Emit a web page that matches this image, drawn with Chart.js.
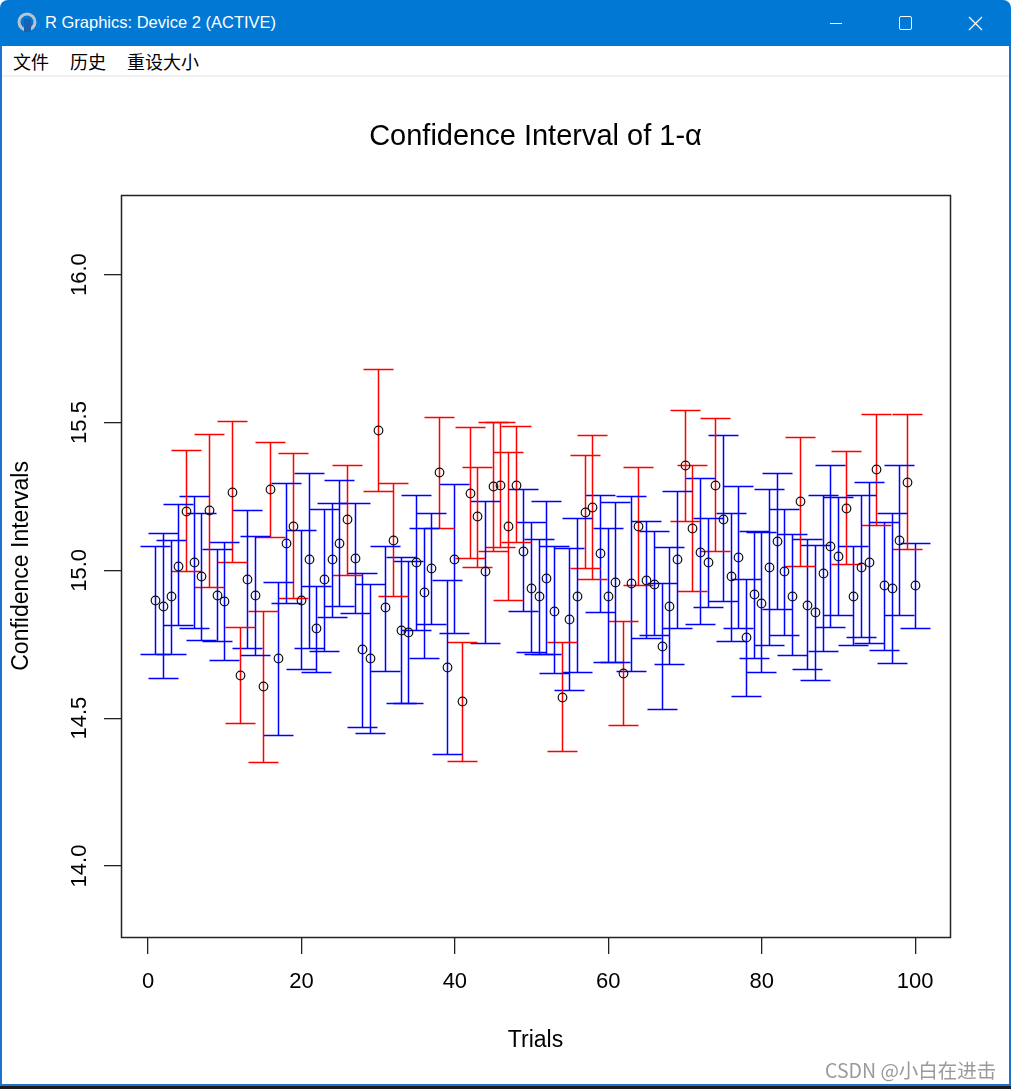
<!DOCTYPE html>
<html>
<head>
<meta charset="utf-8">
<title>Confidence Interval of 1-α</title>
<script src="https://cdn.jsdelivr.net/npm/chart.js@4.4.0/dist/chart.umd.min.js"></script>
<style>
  html, body { margin: 0; padding: 0; background: #fff; }
  #win { position: relative; width: 1011px; height: 1089px; overflow: hidden; background: #fff; }
  #titlebar { position: absolute; left: 0; top: 0; width: 1011px; height: 46px; background: #0078d4; border-radius: 8px 8px 0 0; }
  #titlebar .cap { position: absolute; left: 45px; top: 13px; color: #fff; font: 16.5px "Liberation Sans", Arial, sans-serif; white-space: nowrap; }
  #titlebar svg { position: absolute; left: 0; top: 0; }
  #menu { position: absolute; left: 0; top: 46px; width: 1011px; height: 29px; background: #fff; border-bottom: 2px solid #f0f0f0; }
  #menu span { position: absolute; top: 2px; font: 18px "Noto Sans CJK SC", sans-serif; color: #000; white-space: nowrap; }
  #chartBox { position: absolute; left: 0; top: 77px; width: 1011px; height: 1012px; }
  .edge { position: absolute; background: #1c74d0; }
  #mark { position: absolute; left: 825px; top: 1055px; font: 19.5px "Noto Sans CJK SC", sans-serif; color: #9a9a9a; text-shadow: 0 0 2px #fff; white-space: nowrap; }
</style>
</head>
<body>
<div id="win">
  <div id="titlebar">
    <svg width="1011" height="46">
      <circle cx="27" cy="22" r="8" fill="none" stroke="#b8c4cf" stroke-width="3"/>
      <rect x="24" y="19" width="7" height="13" fill="#1b5fb0"/>
      <line x1="830" y1="23.5" x2="842" y2="23.5" stroke="#fff" stroke-width="1"/>
      <rect x="899.5" y="16.5" width="12" height="13" rx="1.5" fill="none" stroke="#fff" stroke-width="1"/>
      <line x1="969" y1="17" x2="982" y2="30" stroke="#fff" stroke-width="1.2"/>
      <line x1="982" y1="17" x2="969" y2="30" stroke="#fff" stroke-width="1.2"/>
    </svg>
    <div class="cap">R Graphics: Device 2 (ACTIVE)</div>
  </div>
  <div id="menu">
    <span style="left:13px">文件</span>
    <span style="left:70px">历史</span>
    <span style="left:127px">重设大小</span>
  </div>
  <div id="chartBox"><canvas id="ciChart" width="1011" height="1012"></canvas></div>
  <div class="edge" style="left:0;top:46px;width:2px;height:1040px"></div>
  <div class="edge" style="right:0;top:46px;width:2px;height:1040px"></div>
  <div class="edge" style="left:0;top:1084px;width:1011px;height:2px"></div>
  <div style="position:absolute;left:0;top:1086px;width:1011px;height:3px;background:#1c1c1c"></div>
  <div id="mark">CSDN @小白在进击</div>
</div>
<script>
// trial numbers 1..100
const trials = Array.from({ length: 100 }, (_, i) => i + 1);

// sample means (circles)
const means = [
  14.899, 14.878, 14.910, 15.014, 15.198, 15.026, 14.978, 15.202, 14.915, 14.894,
  15.264, 14.646, 14.969, 14.914, 14.606, 15.272, 14.701, 15.091, 15.149, 14.899,
  15.036, 14.803, 14.969, 15.035, 15.092, 15.172, 15.040, 14.733, 14.701, 15.472,
  14.874, 15.101, 14.798, 14.789, 15.026, 14.924, 15.005, 15.330, 14.671, 15.037,
  14.558, 15.259, 15.183, 14.995, 15.283, 15.288, 15.147, 15.288, 15.065, 14.939,
  14.910, 14.974, 14.862, 14.569, 14.833, 14.913, 15.197, 15.214, 15.056, 14.913,
  14.960, 14.650, 14.955, 15.147, 14.966, 14.952, 14.742, 14.879, 15.035, 15.354,
  15.142, 15.062, 15.026, 15.288, 15.172, 14.978, 15.045, 14.772, 14.918, 14.888,
  15.009, 15.096, 14.995, 14.913, 15.234, 14.882, 14.857, 14.990, 15.080, 15.046,
  15.208, 14.913, 15.009, 15.026, 15.340, 14.949, 14.939, 15.101, 15.298, 14.949
];

// lower interval ends
const lower = [
  14.716, 14.635, 14.716, 14.812, 14.995, 14.803, 14.764, 14.943, 14.760, 14.696,
  15.026, 14.483, 14.736, 14.712, 14.350, 15.112, 14.442, 14.888, 14.904, 14.665,
  14.736, 14.656, 14.726, 14.842, 14.879, 14.984, 14.854, 14.468, 14.448, 15.268,
  14.659, 14.913, 14.550, 14.550, 14.797, 14.701, 14.817, 15.142, 14.376, 14.787,
  14.355, 15.039, 15.011, 14.752, 15.065, 15.076, 14.899, 15.095, 14.862, 14.721,
  14.716, 14.716, 14.652, 14.386, 14.594, 14.654, 15.005, 14.969, 14.857, 14.688,
  14.688, 14.474, 14.659, 14.949, 14.769, 14.778, 14.530, 14.682, 14.803, 15.166,
  14.930, 14.817, 14.874, 15.065, 14.893, 14.761, 14.803, 14.573, 14.701, 14.654,
  14.746, 14.866, 14.778, 14.712, 15.014, 14.665, 14.629, 14.726, 14.808, 14.848,
  15.020, 14.747, 14.772, 14.753, 15.153, 14.730, 14.685, 14.848, 15.071, 14.803
];

// upper interval ends
const upper = [
  15.080, 15.126, 15.101, 15.223, 15.406, 15.249, 15.192, 15.460, 15.071, 15.095,
  15.502, 14.808, 15.202, 15.116, 14.862, 15.431, 14.960, 15.294, 15.394, 15.136,
  15.329, 14.947, 15.206, 15.226, 15.304, 15.353, 15.226, 14.990, 14.952, 15.678,
  15.080, 15.294, 15.045, 15.031, 15.253, 15.142, 15.192, 15.517, 14.966, 15.289,
  14.757, 15.482, 15.349, 15.232, 15.501, 15.499, 15.400, 15.485, 15.273, 15.161,
  15.104, 15.232, 15.079, 14.755, 15.075, 15.175, 15.389, 15.456, 15.253, 15.142,
  15.228, 14.826, 15.249, 15.349, 15.164, 15.130, 14.955, 15.076, 15.268, 15.541,
  15.355, 15.309, 15.175, 15.512, 15.456, 15.192, 15.282, 14.969, 15.130, 15.127,
  15.273, 15.329, 15.206, 15.121, 15.450, 15.104, 15.085, 15.253, 15.354, 15.245,
  15.401, 15.080, 15.253, 15.298, 15.527, 15.161, 15.192, 15.354, 15.527, 15.091
];

// trials whose interval is drawn in red
const redTrials = [5, 8, 11, 12, 15, 16, 19, 26, 30, 32, 38, 41, 42, 43, 45, 46, 47, 48,
  54, 57, 58, 62, 64, 70, 71, 74, 85, 91, 95, 99];

const xTicks = [0, 20, 40, 60, 80, 100];
const yTicks = [14.0, 14.5, 15.0, 15.5, 16.0];

const FONT = 'Liberation Sans';

// one small dataset per interval: stem from lower to upper, caps drawn as 'line' points
const intervalSets = trials.map((t, i) => {
  const col = redTrials.includes(t) ? '#ff0000' : '#0000ff';
  return {
    data: [{ x: t, y: lower[i] }, { x: t, y: upper[i] }],
    showLine: true,
    borderColor: col,
    backgroundColor: col,
    borderWidth: 1.5,
    pointStyle: 'line',
    pointRadius: 15,
    pointHoverRadius: 15,
    pointBorderColor: col,
    pointBorderWidth: 1.5,
    order: 1
  };
});

// snap the positions the scales gave onto pixel centres, so lines stay as sharp as R's
const pixelSnap = {
  id: 'pixelSnap',
  afterDatasetsUpdate(chart) {
    chart.data.datasets.forEach((ds, di) => {
      const meta = chart.getDatasetMeta(di);
      meta.data.forEach(pt => {
        pt.x = Math.floor(pt.x) + 0.5;
        pt.y = Math.floor(pt.y) + 0.5;
      });
      if (meta.dataset) meta.dataset._path = undefined;
    });
  }
};

// box around the plot region, like R's box()
const plotBox = {
  id: 'plotBox',
  afterDraw(chart) {
    const { ctx, chartArea: a } = chart;
    ctx.save();
    ctx.strokeStyle = '#222';
    ctx.lineWidth = 1.5;
    ctx.strokeRect(Math.round(a.left) + 0.5, Math.round(a.top) + 0.5,
      Math.round(a.right - a.left), Math.round(a.bottom - a.top));
    ctx.restore();
  }
};

const gridOpts = {
  drawOnChartArea: false,
  drawTicks: true,
  tickLength: 17,
  color: '#222',
  tickColor: '#222',
  tickWidth: 1.3,
  lineWidth: 1.3
};

new Chart(document.getElementById('ciChart'), {
  type: 'scatter',
  data: {
    datasets: [
      {
        // the means: open circles only, no connecting line
        data: means.map((m, i) => ({ x: trials[i], y: m })),
        showLine: false,
        borderWidth: 0,
        borderColor: 'rgba(0,0,0,0)',
        backgroundColor: 'rgba(0,0,0,0)',
        pointStyle: 'circle',
        pointRadius: 4.3,
        pointHoverRadius: 4.3,
        pointBorderColor: '#111',
        pointBackgroundColor: 'rgba(0,0,0,0)',
        pointBorderWidth: 1.2,
        order: 0
      },
      ...intervalSets
    ]
  },
  options: {
    responsive: false,
    animation: false,
    events: [],
    layout: { padding: { left: 0, right: 61, top: 0, bottom: 0 } },
    plugins: {
      legend: { display: false },
      tooltip: { enabled: false },
      title: {
        display: true,
        fullSize: false,
        text: 'Confidence Interval of 1-α',
        color: '#000',
        font: { family: FONT, size: 29, weight: 'normal' },
        padding: { top: 43, bottom: 40 }
      }
    },
    scales: {
      x: {
        type: 'linear',
        min: -3.52,
        max: 104.54,
        afterBuildTicks: s => { s.ticks = xTicks.map(v => ({ value: v })); },
        afterFit: s => { s.height = 152; },
        grid: gridOpts,
        border: { display: false },
        ticks: {
          color: '#000',
          font: { family: FONT, size: 22 },
          padding: 15,
          minRotation: 0,
          maxRotation: 0,
          autoSkip: false,
          callback: v => String(v)
        },
        title: {
          display: true,
          text: 'Trials',
          color: '#000',
          font: { family: FONT, size: 23 },
          padding: { top: 0, bottom: 35 }
        }
      },
      y: {
        type: 'linear',
        min: 13.76,
        max: 16.27,
        afterBuildTicks: s => { s.ticks = yTicks.map(v => ({ value: v })); },
        afterFit: s => { s.width = 121; },
        grid: gridOpts,
        border: { display: false },
        ticks: {
          color: '#000',
          font: { family: FONT, size: 22 },
          padding: 3,
          minRotation: 90,
          maxRotation: 90,
          crossAlign: 'center',
          autoSkip: false,
          callback: v => Number(v).toFixed(1)
        },
        title: {
          display: true,
          text: 'Confidence Intervals',
          color: '#000',
          font: { family: FONT, size: 23 },
          padding: { top: 8, bottom: 0 }
        }
      }
    }
  },
  plugins: [pixelSnap, plotBox]
});
</script>
</body>
</html>
